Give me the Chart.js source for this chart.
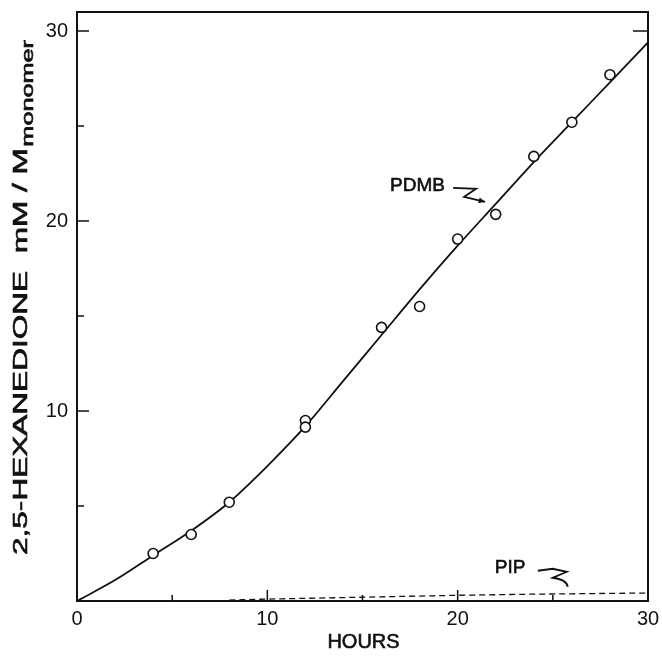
<!DOCTYPE html>
<html><head><meta charset="utf-8">
<script src="https://cdn.jsdelivr.net/npm/chart.js@4.4.1/dist/chart.umd.min.js"></script>
<style>html,body{margin:0;padding:0;background:#fff;}#wrap{width:662px;height:659px;}</style>
</head><body><div id="wrap"><canvas id="c" width="662" height="659"></canvas></div>
<script>
// ---- data ----
const obsHours   = [4, 6, 8, 12, 12, 16, 18, 20, 22, 24, 26, 28];
const pdmbObs    = [2.5, 3.5, 5.2, 9.5, 9.15, 14.4, 15.5, 19.05, 20.35, 23.4, 25.2, 27.7];
const fitHours   = [0, 2, 4, 6, 8, 10, 12, 14, 16, 18, 20, 22, 24, 26, 28, 30];
const pdmbFit    = [0, 1.1, 2.4, 3.7, 5.2, 7.1, 9.2, 11.6, 14.0, 16.4, 18.7, 20.9, 23.1, 25.2, 27.3, 29.4];
const pipHours   = [8, 10, 12, 14, 16, 18, 20, 22, 24, 26, 28, 30];
const pipFit     = [0.05, 0.1, 0.14, 0.18, 0.22, 0.26, 0.3, 0.33, 0.36, 0.38, 0.4, 0.42];
const xTickLabels = [0, 10, 20, 30];
const yTickLabels = [10, 20, 30];
const xMinor = [5, 15, 25];
const yMinor = [5, 15, 25];
const xTitle = 'HOURS';
const yTitleMain = '2,5-HEXANEDIONE  mM / M';
const yTitleSub = 'monomer';

const FONT = '"Liberation Sans", Arial, sans-serif';
const INK = '#111';
const toXY = (xs, ys) => xs.map((x, i) => ({x, y: ys[i]}));

function arrowPath(ctx, pts) {
  ctx.beginPath();
  ctx.moveTo(pts[0][0], pts[0][1]);
  for (let i = 1; i < pts.length; i++) ctx.lineTo(pts[i][0], pts[i][1]);
  ctx.stroke();
  const [a, b] = [pts[pts.length - 2], pts[pts.length - 1]];
  const ang = Math.atan2(b[1] - a[1], b[0] - a[0]);
  ctx.beginPath();
  ctx.moveTo(b[0], b[1]);
  ctx.lineTo(b[0] - 7 * Math.cos(ang - 0.45), b[1] - 7 * Math.sin(ang - 0.45));
  ctx.lineTo(b[0] - 7 * Math.cos(ang + 0.45), b[1] - 7 * Math.sin(ang + 0.45));
  ctx.closePath();
  ctx.fill();
}

function boldText(ctx, t, x, y) {
  ctx.fillText(t, x, y);
  ctx.lineWidth = 0.6;
  ctx.strokeText(t, x, y);
}

const decor = {
  id: 'decor',
  afterDraw(chart) {
    const {ctx, chartArea: a, scales: {x, y}} = chart;
    ctx.save();
    ctx.strokeStyle = INK; ctx.fillStyle = INK;
    ctx.lineWidth = 2;
    ctx.strokeRect(a.left, a.top, a.right - a.left, a.bottom - a.top);
    ctx.lineWidth = 1.5;
    ctx.beginPath();
    xTickLabels.forEach(v => { const p = x.getPixelForValue(v); ctx.moveTo(p, a.bottom); ctx.lineTo(p, a.bottom - 11); });
    xMinor.forEach(v => { const p = x.getPixelForValue(v); ctx.moveTo(p, a.bottom); ctx.lineTo(p, a.bottom - 6); });
    yTickLabels.forEach(v => { const p = y.getPixelForValue(v); ctx.moveTo(a.left, p); ctx.lineTo(a.left + 12, p); });
    yMinor.forEach(v => { const p = y.getPixelForValue(v); ctx.moveTo(a.left, p); ctx.lineTo(a.left + 7, p); });
    const p30 = y.getPixelForValue(30); ctx.moveTo(a.right, p30); ctx.lineTo(a.right - 15, p30);
    ctx.stroke();

    // axis titles
    ctx.font = '20px ' + FONT;
    ctx.textAlign = 'center'; ctx.textBaseline = 'alphabetic';
    boldText(ctx, xTitle, (a.left + a.right) / 2 + 1, 648);

    ctx.save();
    ctx.translate(27, 555);
    ctx.rotate(-Math.PI / 2);
    ctx.textAlign = 'left';
    ctx.font = '20px ' + FONT;
    const mainW = ctx.measureText(yTitleMain).width;
    ctx.font = '16px ' + FONT;
    const subW = ctx.measureText(yTitleSub).width;
    const target = 515;
    const s = target / (mainW + subW + 1);
    ctx.scale(s, 1);
    ctx.font = '20px ' + FONT;
    boldText(ctx, yTitleMain, 0, 0);
    ctx.font = '16px ' + FONT;
    boldText(ctx, yTitleSub, mainW + 1, 6);
    ctx.restore();

    // annotations
    ctx.font = '19px ' + FONT;
    ctx.textAlign = 'left'; ctx.textBaseline = 'middle';
    const px1 = x.getPixelForValue(16.45), py1 = y.getPixelForValue(21.85);
    boldText(ctx, 'PDMB', px1, py1);
    ctx.lineWidth = 1.8;
    arrowPath(ctx, [[px1 + 63, py1 + 2], [px1 + 86, py1 + 3], [px1 + 74, py1 + 11], [px1 + 95, py1 + 16]]);

    const px2 = x.getPixelForValue(21.95), py2 = y.getPixelForValue(1.75);
    boldText(ctx, 'PIP', px2, py2);
    ctx.lineWidth = 1.8;
    ctx.beginPath();
    ctx.moveTo(px2 + 43, py2 + 3);
    ctx.lineTo(px2 + 58, py2 + 1);
    ctx.lineTo(px2 + 72, py2 + 4);
    ctx.lineTo(px2 + 58, py2 + 10);
    ctx.quadraticCurveTo(px2 + 72, py2 + 12, px2 + 73, py2 + 19);
    ctx.stroke();
    ctx.restore();
  }
};

const noPad = s => { s.paddingLeft = 0; s.paddingRight = 0; s.paddingTop = 0; s.paddingBottom = 0; };

new Chart(document.getElementById('c'), {
  type: 'scatter',
  data: {
    datasets: [
      { data: toXY(obsHours, pdmbObs), pointRadius: 5, pointBorderWidth: 1.6,
        pointBorderColor: INK, pointBackgroundColor: '#fff', showLine: false, order: 0 },
      { data: toXY(fitHours, pdmbFit), showLine: true, borderColor: INK, borderWidth: 1.8,
        pointRadius: 0, cubicInterpolationMode: 'monotone', order: 1 },
      { data: toXY(pipHours, pipFit), showLine: true, borderColor: INK, borderWidth: 1.3,
        borderDash: [6, 4], pointRadius: 0, cubicInterpolationMode: 'monotone', order: 2 }
    ]
  },
  options: {
    responsive: false, animation: false, devicePixelRatio: 1,
    layout: { padding: { top: 12, right: 14, left: 0, bottom: 0 } },
    plugins: { legend: { display: false }, tooltip: { enabled: false } },
    scales: {
      x: { type: 'linear', min: 0, max: 30,
        grid: { display: false, drawTicks: false }, border: { display: false },
        afterBuildTicks: s => { s.ticks = xTickLabels.map(v => ({value: v})); },
        afterFit: s => { s.height = 58; noPad(s); },
        ticks: { color: INK, padding: 6, font: { size: 20, family: FONT }, maxRotation: 0 } },
      y: { type: 'linear', min: 0, max: 31,
        grid: { display: false, drawTicks: false }, border: { display: false },
        afterBuildTicks: s => { s.ticks = yTickLabels.map(v => ({value: v})); },
        afterFit: s => { s.width = 77; noPad(s); },
        ticks: { color: INK, padding: 9, font: { size: 20, family: FONT } } }
    }
  },
  plugins: [decor]
});
</script></body></html>
